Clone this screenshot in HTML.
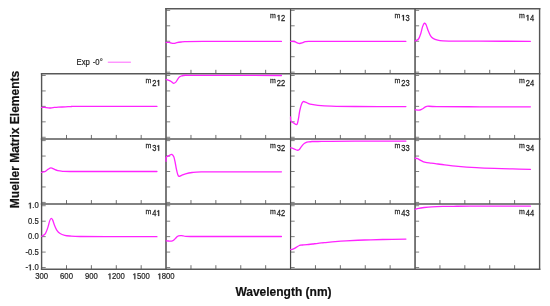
<!DOCTYPE html>
<html><head><meta charset="utf-8"><style>
html,body{margin:0;padding:0;background:#fff;width:550px;height:306px;overflow:hidden;font-family:"Liberation Sans",sans-serif;}
svg{display:block;will-change:transform}
</style></head><body><svg width="550" height="306" viewBox="0 0 550 306"><g stroke="#808080" stroke-width="1.0"><line x1="166.08" y1="10.36" x2="170.18" y2="10.36"/><line x1="166.08" y1="25.81" x2="170.18" y2="25.81"/><line x1="166.08" y1="41.26" x2="170.18" y2="41.26"/><line x1="166.08" y1="56.71" x2="170.18" y2="56.71"/><line x1="166.08" y1="72.16" x2="170.18" y2="72.16"/><line x1="290.56" y1="10.36" x2="294.66" y2="10.36"/><line x1="290.56" y1="25.81" x2="294.66" y2="25.81"/><line x1="290.56" y1="41.26" x2="294.66" y2="41.26"/><line x1="290.56" y1="56.71" x2="294.66" y2="56.71"/><line x1="290.56" y1="72.16" x2="294.66" y2="72.16"/><line x1="415.04" y1="10.36" x2="419.14" y2="10.36"/><line x1="415.04" y1="25.81" x2="419.14" y2="25.81"/><line x1="415.04" y1="41.26" x2="419.14" y2="41.26"/><line x1="415.04" y1="56.71" x2="419.14" y2="56.71"/><line x1="415.04" y1="72.16" x2="419.14" y2="72.16"/><line x1="41.60" y1="75.48" x2="45.70" y2="75.48"/><line x1="41.60" y1="90.93" x2="45.70" y2="90.93"/><line x1="41.60" y1="106.38" x2="45.70" y2="106.38"/><line x1="41.60" y1="121.83" x2="45.70" y2="121.83"/><line x1="41.60" y1="137.28" x2="45.70" y2="137.28"/><line x1="166.08" y1="75.48" x2="170.18" y2="75.48"/><line x1="166.08" y1="90.93" x2="170.18" y2="90.93"/><line x1="166.08" y1="106.38" x2="170.18" y2="106.38"/><line x1="166.08" y1="121.83" x2="170.18" y2="121.83"/><line x1="166.08" y1="137.28" x2="170.18" y2="137.28"/><line x1="290.56" y1="75.48" x2="294.66" y2="75.48"/><line x1="290.56" y1="90.93" x2="294.66" y2="90.93"/><line x1="290.56" y1="106.38" x2="294.66" y2="106.38"/><line x1="290.56" y1="121.83" x2="294.66" y2="121.83"/><line x1="290.56" y1="137.28" x2="294.66" y2="137.28"/><line x1="415.04" y1="75.48" x2="419.14" y2="75.48"/><line x1="415.04" y1="90.93" x2="419.14" y2="90.93"/><line x1="415.04" y1="106.38" x2="419.14" y2="106.38"/><line x1="415.04" y1="121.83" x2="419.14" y2="121.83"/><line x1="415.04" y1="137.28" x2="419.14" y2="137.28"/><line x1="41.60" y1="140.61" x2="45.70" y2="140.61"/><line x1="41.60" y1="156.06" x2="45.70" y2="156.06"/><line x1="41.60" y1="171.51" x2="45.70" y2="171.51"/><line x1="41.60" y1="186.96" x2="45.70" y2="186.96"/><line x1="41.60" y1="202.41" x2="45.70" y2="202.41"/><line x1="166.08" y1="140.61" x2="170.18" y2="140.61"/><line x1="166.08" y1="156.06" x2="170.18" y2="156.06"/><line x1="166.08" y1="171.51" x2="170.18" y2="171.51"/><line x1="166.08" y1="186.96" x2="170.18" y2="186.96"/><line x1="166.08" y1="202.41" x2="170.18" y2="202.41"/><line x1="290.56" y1="140.61" x2="294.66" y2="140.61"/><line x1="290.56" y1="156.06" x2="294.66" y2="156.06"/><line x1="290.56" y1="171.51" x2="294.66" y2="171.51"/><line x1="290.56" y1="186.96" x2="294.66" y2="186.96"/><line x1="290.56" y1="202.41" x2="294.66" y2="202.41"/><line x1="415.04" y1="140.61" x2="419.14" y2="140.61"/><line x1="415.04" y1="156.06" x2="419.14" y2="156.06"/><line x1="415.04" y1="171.51" x2="419.14" y2="171.51"/><line x1="415.04" y1="186.96" x2="419.14" y2="186.96"/><line x1="415.04" y1="202.41" x2="419.14" y2="202.41"/><line x1="41.60" y1="205.73" x2="45.70" y2="205.73"/><line x1="41.60" y1="221.19" x2="45.70" y2="221.19"/><line x1="41.60" y1="236.63" x2="45.70" y2="236.63"/><line x1="41.60" y1="252.08" x2="45.70" y2="252.08"/><line x1="41.60" y1="267.53" x2="45.70" y2="267.53"/><line x1="166.08" y1="205.73" x2="170.18" y2="205.73"/><line x1="166.08" y1="221.19" x2="170.18" y2="221.19"/><line x1="166.08" y1="236.63" x2="170.18" y2="236.63"/><line x1="166.08" y1="252.08" x2="170.18" y2="252.08"/><line x1="166.08" y1="267.53" x2="170.18" y2="267.53"/><line x1="290.56" y1="205.73" x2="294.66" y2="205.73"/><line x1="290.56" y1="221.19" x2="294.66" y2="221.19"/><line x1="290.56" y1="236.63" x2="294.66" y2="236.63"/><line x1="290.56" y1="252.08" x2="294.66" y2="252.08"/><line x1="290.56" y1="267.53" x2="294.66" y2="267.53"/><line x1="415.04" y1="205.73" x2="419.14" y2="205.73"/><line x1="415.04" y1="221.19" x2="419.14" y2="221.19"/><line x1="415.04" y1="236.63" x2="419.14" y2="236.63"/><line x1="415.04" y1="252.08" x2="419.14" y2="252.08"/><line x1="415.04" y1="267.53" x2="419.14" y2="267.53"/></g><g stroke="#707070" stroke-width="1"><line x1="190.98" y1="73.82" x2="190.98" y2="69.82"/><line x1="215.87" y1="73.82" x2="215.87" y2="69.82"/><line x1="240.77" y1="73.82" x2="240.77" y2="69.82"/><line x1="265.66" y1="73.82" x2="265.66" y2="69.82"/><line x1="315.46" y1="73.82" x2="315.46" y2="69.82"/><line x1="340.35" y1="73.82" x2="340.35" y2="69.82"/><line x1="365.25" y1="73.82" x2="365.25" y2="69.82"/><line x1="390.14" y1="73.82" x2="390.14" y2="69.82"/><line x1="439.94" y1="73.82" x2="439.94" y2="69.82"/><line x1="464.83" y1="73.82" x2="464.83" y2="69.82"/><line x1="489.73" y1="73.82" x2="489.73" y2="69.82"/><line x1="514.62" y1="73.82" x2="514.62" y2="69.82"/><line x1="66.50" y1="138.95" x2="66.50" y2="134.95"/><line x1="91.39" y1="138.95" x2="91.39" y2="134.95"/><line x1="116.29" y1="138.95" x2="116.29" y2="134.95"/><line x1="141.18" y1="138.95" x2="141.18" y2="134.95"/><line x1="190.98" y1="138.95" x2="190.98" y2="134.95"/><line x1="215.87" y1="138.95" x2="215.87" y2="134.95"/><line x1="240.77" y1="138.95" x2="240.77" y2="134.95"/><line x1="265.66" y1="138.95" x2="265.66" y2="134.95"/><line x1="315.46" y1="138.95" x2="315.46" y2="134.95"/><line x1="340.35" y1="138.95" x2="340.35" y2="134.95"/><line x1="365.25" y1="138.95" x2="365.25" y2="134.95"/><line x1="390.14" y1="138.95" x2="390.14" y2="134.95"/><line x1="439.94" y1="138.95" x2="439.94" y2="134.95"/><line x1="464.83" y1="138.95" x2="464.83" y2="134.95"/><line x1="489.73" y1="138.95" x2="489.73" y2="134.95"/><line x1="514.62" y1="138.95" x2="514.62" y2="134.95"/><line x1="66.50" y1="204.07" x2="66.50" y2="200.07"/><line x1="91.39" y1="204.07" x2="91.39" y2="200.07"/><line x1="116.29" y1="204.07" x2="116.29" y2="200.07"/><line x1="141.18" y1="204.07" x2="141.18" y2="200.07"/><line x1="190.98" y1="204.07" x2="190.98" y2="200.07"/><line x1="215.87" y1="204.07" x2="215.87" y2="200.07"/><line x1="240.77" y1="204.07" x2="240.77" y2="200.07"/><line x1="265.66" y1="204.07" x2="265.66" y2="200.07"/><line x1="315.46" y1="204.07" x2="315.46" y2="200.07"/><line x1="340.35" y1="204.07" x2="340.35" y2="200.07"/><line x1="365.25" y1="204.07" x2="365.25" y2="200.07"/><line x1="390.14" y1="204.07" x2="390.14" y2="200.07"/><line x1="439.94" y1="204.07" x2="439.94" y2="200.07"/><line x1="464.83" y1="204.07" x2="464.83" y2="200.07"/><line x1="489.73" y1="204.07" x2="489.73" y2="200.07"/><line x1="514.62" y1="204.07" x2="514.62" y2="200.07"/><line x1="66.50" y1="269.20" x2="66.50" y2="265.20"/><line x1="91.39" y1="269.20" x2="91.39" y2="265.20"/><line x1="116.29" y1="269.20" x2="116.29" y2="265.20"/><line x1="141.18" y1="269.20" x2="141.18" y2="265.20"/><line x1="190.98" y1="269.20" x2="190.98" y2="265.20"/><line x1="215.87" y1="269.20" x2="215.87" y2="265.20"/><line x1="240.77" y1="269.20" x2="240.77" y2="265.20"/><line x1="265.66" y1="269.20" x2="265.66" y2="265.20"/><line x1="315.46" y1="269.20" x2="315.46" y2="265.20"/><line x1="340.35" y1="269.20" x2="340.35" y2="265.20"/><line x1="365.25" y1="269.20" x2="365.25" y2="265.20"/><line x1="390.14" y1="269.20" x2="390.14" y2="265.20"/><line x1="439.94" y1="269.20" x2="439.94" y2="265.20"/><line x1="464.83" y1="269.20" x2="464.83" y2="265.20"/><line x1="489.73" y1="269.20" x2="489.73" y2="265.20"/><line x1="514.62" y1="269.20" x2="514.62" y2="265.20"/></g><g fill="none"><line x1="41.60" y1="73.70" x2="41.60" y2="269.20" stroke="#555" stroke-width="1.4" stroke-linecap="square"/><line x1="166.00" y1="8.75" x2="166.00" y2="269.20" stroke="#636363" stroke-width="1.7" stroke-linecap="square"/><line x1="290.55" y1="8.75" x2="290.55" y2="269.20" stroke="#474747" stroke-width="1.2" stroke-linecap="square"/><line x1="415.05" y1="8.75" x2="415.05" y2="269.20" stroke="#636363" stroke-width="1.7" stroke-linecap="square"/><line x1="539.60" y1="8.75" x2="539.60" y2="269.20" stroke="#555" stroke-width="1.4" stroke-linecap="square"/><line x1="166.00" y1="8.75" x2="539.60" y2="8.75" stroke="#585858" stroke-width="1.45" stroke-linecap="square"/><line x1="41.60" y1="73.70" x2="539.60" y2="73.70" stroke="#585858" stroke-width="1.45" stroke-linecap="square"/><line x1="41.60" y1="139.05" x2="539.60" y2="139.05" stroke="#585858" stroke-width="1.6" stroke-linecap="square"/><line x1="41.60" y1="204.00" x2="539.60" y2="204.00" stroke="#585858" stroke-width="1.6" stroke-linecap="square"/><line x1="41.60" y1="269.20" x2="539.60" y2="269.20" stroke="#585858" stroke-width="1.45" stroke-linecap="square"/></g><g fill="none" stroke="#ff24ff" stroke-width="1.3" stroke-linejoin="round" stroke-linecap="round"><path d="M166.08,42.50 C166.53,42.48 167.98,42.32 168.80,42.40 C169.62,42.48 170.15,42.83 171.00,43.00 C171.85,43.17 172.93,43.45 173.90,43.40 C174.87,43.35 175.58,42.93 176.80,42.70 C178.02,42.47 179.87,42.18 181.20,42.00 C182.53,41.82 181.17,41.70 184.80,41.60 C188.43,41.50 186.90,41.43 203.00,41.40 C219.10,41.37 268.36,41.40 281.43,41.40"/><path d="M290.56,41.30 C291.18,41.33 293.19,41.23 294.30,41.50 C295.41,41.77 296.30,42.57 297.20,42.90 C298.10,43.23 298.85,43.50 299.70,43.50 C300.55,43.50 301.38,43.20 302.30,42.90 C303.22,42.60 304.12,41.95 305.20,41.70 C306.28,41.45 305.17,41.47 308.80,41.40 C312.43,41.33 310.81,41.32 327.00,41.30 C343.19,41.28 392.76,41.30 405.91,41.30"/><path d="M415.04,41.00 C415.62,40.67 417.54,40.25 418.50,39.00 C419.46,37.75 420.12,35.57 420.80,33.50 C421.48,31.43 422.00,28.32 422.60,26.60 C423.20,24.88 423.82,23.50 424.40,23.20 C424.98,22.90 425.48,23.58 426.10,24.80 C426.72,26.02 427.38,28.70 428.10,30.50 C428.82,32.30 429.57,34.28 430.40,35.60 C431.23,36.92 431.88,37.63 433.10,38.40 C434.32,39.17 436.05,39.78 437.70,40.20 C439.35,40.62 440.45,40.75 443.00,40.90 C445.55,41.05 446.83,41.05 453.00,41.10 C459.17,41.15 467.10,41.17 480.00,41.20 C492.90,41.23 521.99,41.28 530.39,41.30"/><path d="M41.60,107.30 C42.07,107.32 43.08,107.28 44.40,107.40 C45.72,107.52 48.05,107.97 49.50,108.00 C50.95,108.03 51.65,107.75 53.10,107.60 C54.55,107.45 56.13,107.22 58.20,107.10 C60.27,106.98 63.32,107.00 65.50,106.90 C67.68,106.80 68.88,106.58 71.30,106.50 C73.72,106.42 65.72,106.42 80.00,106.40 C94.28,106.38 144.12,106.40 156.95,106.40"/><path d="M166.08,79.40 C166.55,79.55 168.05,79.95 168.90,80.30 C169.75,80.65 170.43,81.00 171.20,81.50 C171.97,82.00 172.73,83.20 173.50,83.30 C174.27,83.40 175.12,82.75 175.80,82.10 C176.48,81.45 177.00,80.23 177.60,79.40 C178.20,78.57 178.78,77.67 179.40,77.10 C180.02,76.53 180.62,76.27 181.30,76.00 C181.98,75.73 182.55,75.63 183.50,75.50 C184.45,75.37 185.43,75.23 187.00,75.20 C188.57,75.17 177.16,75.25 192.90,75.30 C208.64,75.35 266.68,75.47 281.43,75.50"/><path d="M290.56,116.80 C290.60,117.47 290.41,119.85 290.80,120.80 C291.19,121.75 291.98,121.87 292.90,122.50 C293.82,123.13 295.53,124.50 296.30,124.60 C297.07,124.70 297.12,124.22 297.50,123.10 C297.88,121.98 298.23,119.92 298.60,117.90 C298.97,115.88 299.22,113.28 299.70,111.00 C300.18,108.72 300.92,105.77 301.50,104.20 C302.08,102.63 302.53,101.95 303.20,101.60 C303.87,101.25 304.35,101.67 305.50,102.10 C306.65,102.53 308.03,103.67 310.10,104.20 C312.17,104.73 314.38,104.98 317.90,105.30 C321.42,105.62 325.02,105.90 331.20,106.10 C337.38,106.30 342.55,106.42 355.00,106.50 C367.45,106.58 397.42,106.58 405.91,106.60"/><path d="M415.04,109.80 C415.87,109.83 418.66,110.22 420.00,110.00 C421.34,109.78 421.97,109.12 423.10,108.50 C424.23,107.88 424.53,106.62 426.80,106.30 C429.07,105.98 427.83,106.52 436.70,106.60 C445.57,106.68 464.38,106.77 480.00,106.80 C495.62,106.83 521.99,106.80 530.39,106.80"/><path d="M41.60,172.30 C42.13,172.18 43.75,172.08 44.80,171.60 C45.85,171.12 46.87,170.02 47.90,169.40 C48.93,168.78 49.97,167.93 51.00,167.90 C52.03,167.87 52.97,168.73 54.10,169.20 C55.23,169.67 56.37,170.35 57.80,170.70 C59.23,171.05 60.67,171.17 62.70,171.30 C64.73,171.43 62.78,171.47 70.00,171.50 C77.22,171.53 91.51,171.50 106.00,171.50 C120.49,171.50 148.46,171.50 156.95,171.50"/><path d="M166.08,161.30 C166.10,160.65 165.90,158.27 166.20,157.40 C166.50,156.53 167.30,156.47 167.90,156.10 C168.50,155.73 169.15,155.48 169.80,155.20 C170.45,154.92 171.13,154.13 171.80,154.40 C172.47,154.67 173.25,155.53 173.80,156.80 C174.35,158.07 174.67,159.93 175.10,162.00 C175.53,164.07 175.97,167.13 176.40,169.20 C176.83,171.27 177.27,173.20 177.70,174.40 C178.13,175.60 178.35,176.25 179.00,176.40 C179.65,176.55 180.52,175.73 181.60,175.30 C182.68,174.87 183.75,174.27 185.50,173.80 C187.25,173.33 189.48,172.82 192.10,172.50 C194.72,172.18 194.88,172.02 201.20,171.90 C207.52,171.78 216.63,171.82 230.00,171.80 C243.37,171.78 272.86,171.80 281.43,171.80"/><path d="M290.56,147.80 C291.12,147.97 292.81,148.40 293.90,148.80 C294.99,149.20 296.25,150.03 297.10,150.20 C297.95,150.37 298.32,150.35 299.00,149.80 C299.68,149.25 300.45,147.85 301.20,146.90 C301.95,145.95 302.73,144.82 303.50,144.10 C304.27,143.38 304.95,142.97 305.80,142.60 C306.65,142.23 307.57,142.08 308.60,141.90 C309.63,141.72 310.45,141.57 312.00,141.50 C313.55,141.43 314.85,141.53 317.90,141.50 C320.95,141.47 324.12,141.35 330.30,141.30 C336.48,141.25 342.40,141.23 355.00,141.20 C367.60,141.17 397.42,141.12 405.91,141.10"/><path d="M415.04,158.20 C415.45,158.28 416.64,158.38 417.50,158.70 C418.36,159.02 419.20,159.58 420.20,160.10 C421.20,160.62 422.60,161.42 423.50,161.80 C424.40,162.18 424.33,162.18 425.60,162.40 C426.87,162.62 429.28,162.87 431.10,163.10 C432.92,163.33 434.68,163.57 436.50,163.80 C438.32,164.03 438.38,164.08 442.00,164.50 C445.62,164.92 452.47,165.78 458.20,166.30 C463.93,166.82 470.35,167.25 476.40,167.60 C482.45,167.95 488.45,168.18 494.50,168.40 C500.55,168.62 506.72,168.73 512.70,168.90 C518.68,169.07 527.44,169.32 530.39,169.40"/><path d="M41.60,236.30 C41.92,236.12 42.85,235.68 43.50,235.20 C44.15,234.72 44.78,234.67 45.50,233.40 C46.22,232.13 47.12,229.65 47.80,227.60 C48.48,225.55 49.07,222.62 49.60,221.10 C50.13,219.58 50.50,218.70 51.00,218.50 C51.50,218.30 52.00,218.73 52.60,219.90 C53.20,221.07 53.88,223.77 54.60,225.50 C55.32,227.23 55.98,228.97 56.90,230.30 C57.82,231.63 58.80,232.67 60.10,233.50 C61.40,234.33 63.05,234.88 64.70,235.30 C66.35,235.72 67.45,235.80 70.00,236.00 C72.55,236.20 74.00,236.38 80.00,236.50 C86.00,236.62 93.17,236.67 106.00,236.70 C118.83,236.73 148.46,236.70 156.95,236.70"/><path d="M166.08,240.80 C166.48,240.83 167.60,240.95 168.50,241.00 C169.40,241.05 170.72,241.18 171.50,241.10 C172.28,241.02 172.62,240.87 173.20,240.50 C173.78,240.13 174.37,239.52 175.00,238.90 C175.63,238.28 176.42,237.30 177.00,236.80 C177.58,236.30 177.92,236.10 178.50,235.90 C179.08,235.70 179.75,235.62 180.50,235.60 C181.25,235.58 181.35,235.65 183.00,235.80 C184.65,235.95 182.57,236.38 190.40,236.50 C198.23,236.62 214.83,236.50 230.00,236.50 C245.17,236.50 272.86,236.50 281.43,236.50"/><path d="M290.56,249.30 C290.72,249.37 291.01,249.77 291.50,249.70 C291.99,249.63 292.72,249.28 293.50,248.90 C294.28,248.52 295.23,247.97 296.20,247.40 C297.17,246.83 298.58,245.87 299.30,245.50 C300.02,245.13 299.97,245.28 300.50,245.20 C301.03,245.12 301.42,245.08 302.50,245.00 C303.58,244.92 305.33,244.87 307.00,244.70 C308.67,244.53 310.67,244.23 312.50,244.00 C314.33,243.77 316.05,243.52 318.00,243.30 C319.95,243.08 321.35,242.98 324.20,242.70 C327.05,242.42 331.47,241.92 335.10,241.60 C338.73,241.28 341.10,241.07 346.00,240.80 C350.90,240.53 358.38,240.22 364.50,240.00 C370.62,239.78 375.80,239.65 382.70,239.50 C389.60,239.35 402.04,239.17 405.91,239.10"/><path d="M415.04,209.40 C415.65,209.22 417.17,208.62 418.70,208.30 C420.23,207.98 422.02,207.75 424.20,207.50 C426.38,207.25 428.72,206.98 431.80,206.80 C434.88,206.62 439.07,206.48 442.70,206.40 C446.33,206.32 449.05,206.33 453.60,206.30 C458.15,206.27 457.20,206.22 470.00,206.20 C482.80,206.18 520.33,206.20 530.39,206.20"/></g><g font-family="Liberation Sans" font-size="7.3" fill="#222" stroke="#222" stroke-width="0.25"><text transform="translate(285.16,20.60) scale(0.92,1)" text-anchor="end" font-size="8.2"> 2</text><path d="M278.50,20.60 L278.50,15.79 L277.43,16.63 L277.43,15.87 L278.61,14.96 L279.46,14.96 L279.46,20.60Z"/><text transform="translate(275.86,18.20) scale(0.92,1)" text-anchor="end" font-size="7.6">m</text><text transform="translate(409.64,20.60) scale(0.92,1)" text-anchor="end" font-size="8.2"> 3</text><path d="M402.98,20.60 L402.98,15.79 L401.91,16.63 L401.91,15.87 L403.09,14.96 L403.94,14.96 L403.94,20.60Z"/><text transform="translate(400.34,18.20) scale(0.92,1)" text-anchor="end" font-size="7.6">m</text><text transform="translate(534.12,20.60) scale(0.92,1)" text-anchor="end" font-size="8.2"> 4</text><path d="M527.46,20.60 L527.46,15.79 L526.39,16.63 L526.39,15.87 L527.57,14.96 L528.42,14.96 L528.42,20.60Z"/><text transform="translate(524.82,18.20) scale(0.92,1)" text-anchor="end" font-size="7.6">m</text><text transform="translate(160.68,85.72) scale(0.92,1)" text-anchor="end" font-size="8.2">2 </text><path d="M158.22,85.72 L158.22,80.92 L157.15,81.76 L157.15,81.00 L158.33,80.08 L159.17,80.08 L159.17,85.72Z"/><text transform="translate(151.38,83.32) scale(0.92,1)" text-anchor="end" font-size="7.6">m</text><text transform="translate(285.16,85.72) scale(0.92,1)" text-anchor="end" font-size="8.2">22</text><text transform="translate(275.86,83.32) scale(0.92,1)" text-anchor="end" font-size="7.6">m</text><text transform="translate(409.64,85.72) scale(0.92,1)" text-anchor="end" font-size="8.2">23</text><text transform="translate(400.34,83.32) scale(0.92,1)" text-anchor="end" font-size="7.6">m</text><text transform="translate(534.12,85.72) scale(0.92,1)" text-anchor="end" font-size="8.2">24</text><text transform="translate(524.82,83.32) scale(0.92,1)" text-anchor="end" font-size="7.6">m</text><text transform="translate(160.68,150.85) scale(0.92,1)" text-anchor="end" font-size="8.2">3 </text><path d="M158.22,150.85 L158.22,146.04 L157.15,146.88 L157.15,146.12 L158.33,145.21 L159.17,145.21 L159.17,150.85Z"/><text transform="translate(151.38,148.45) scale(0.92,1)" text-anchor="end" font-size="7.6">m</text><text transform="translate(285.16,150.85) scale(0.92,1)" text-anchor="end" font-size="8.2">32</text><text transform="translate(275.86,148.45) scale(0.92,1)" text-anchor="end" font-size="7.6">m</text><text transform="translate(409.64,150.85) scale(0.92,1)" text-anchor="end" font-size="8.2">33</text><text transform="translate(400.34,148.45) scale(0.92,1)" text-anchor="end" font-size="7.6">m</text><text transform="translate(534.12,150.85) scale(0.92,1)" text-anchor="end" font-size="8.2">34</text><text transform="translate(524.82,148.45) scale(0.92,1)" text-anchor="end" font-size="7.6">m</text><text transform="translate(160.68,215.97) scale(0.92,1)" text-anchor="end" font-size="8.2">4 </text><path d="M158.22,215.97 L158.22,211.17 L157.15,212.01 L157.15,211.25 L158.33,210.33 L159.17,210.33 L159.17,215.97Z"/><text transform="translate(151.38,213.57) scale(0.92,1)" text-anchor="end" font-size="7.6">m</text><text transform="translate(285.16,215.97) scale(0.92,1)" text-anchor="end" font-size="8.2">42</text><text transform="translate(275.86,213.57) scale(0.92,1)" text-anchor="end" font-size="7.6">m</text><text transform="translate(409.64,215.97) scale(0.92,1)" text-anchor="end" font-size="8.2">43</text><text transform="translate(400.34,213.57) scale(0.92,1)" text-anchor="end" font-size="7.6">m</text><text transform="translate(534.12,215.97) scale(0.92,1)" text-anchor="end" font-size="8.2">44</text><text transform="translate(524.82,213.57) scale(0.92,1)" text-anchor="end" font-size="7.6">m</text></g><g font-family="Liberation Sans" font-size="8.4" fill="#222" stroke="#222" stroke-width="0.2"><text transform="translate(38.80,208.43) scale(0.92,1)" text-anchor="end"> .0</text><path d="M29.83,208.43 L29.83,203.51 L28.74,204.37 L28.74,203.60 L29.94,202.66 L30.81,202.66 L30.81,208.43Z"/><text transform="translate(38.80,223.88) scale(0.92,1)" text-anchor="end">0.5</text><text transform="translate(38.80,239.33) scale(0.92,1)" text-anchor="end">0.0</text><text transform="translate(38.80,254.78) scale(0.92,1)" text-anchor="end">-0.5</text><text transform="translate(38.80,270.23) scale(0.92,1)" text-anchor="end">- .0</text><path d="M29.83,270.23 L29.83,265.31 L28.74,266.17 L28.74,265.40 L29.94,264.46 L30.81,264.46 L30.81,270.23Z"/><text transform="translate(41.60,279.20) scale(0.92,1)" text-anchor="middle">300</text><text transform="translate(66.50,279.20) scale(0.92,1)" text-anchor="middle">600</text><text transform="translate(91.39,279.20) scale(0.92,1)" text-anchor="middle">900</text><text transform="translate(116.29,279.20) scale(0.92,1)" text-anchor="middle"> 200</text><path d="M109.47,279.20 L109.47,274.28 L108.37,275.14 L108.37,274.36 L109.58,273.42 L110.45,273.42 L110.45,279.20Z"/><text transform="translate(141.18,279.20) scale(0.92,1)" text-anchor="middle"> 500</text><path d="M134.36,279.20 L134.36,274.28 L133.27,275.14 L133.27,274.36 L134.47,273.42 L135.34,273.42 L135.34,279.20Z"/><text transform="translate(166.08,279.20) scale(0.92,1)" text-anchor="middle"> 800</text><path d="M159.26,279.20 L159.26,274.28 L158.16,275.14 L158.16,274.36 L159.37,273.42 L160.24,273.42 L160.24,279.20Z"/></g><text x="283.5" y="295.8" text-anchor="middle" font-family="Liberation Sans" font-weight="bold" font-size="12" fill="#111" stroke="#111" stroke-width="0.2">Wavelength (nm)</text><text transform="translate(19.1,139.5) rotate(-90)" text-anchor="middle" font-family="Liberation Sans" font-weight="bold" font-size="12" fill="#111" stroke="#111" stroke-width="0.2">Mueller Matrix Elements</text><g font-family="Liberation Sans" font-size="8.4" fill="#222" stroke="#222" stroke-width="0.2"><text transform="translate(76.50,65.20) scale(0.92,1)" text-anchor="start" word-spacing="0.9">Exp -0°</text></g><line x1="107.8" y1="62.2" x2="130.9" y2="62.2" stroke="#ff66ff" stroke-width="1"/></svg></body></html>
